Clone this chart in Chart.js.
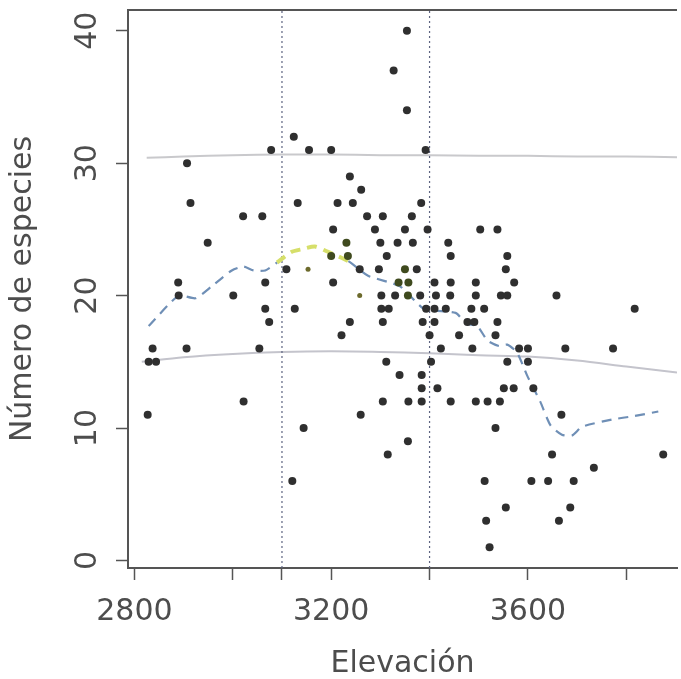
<!DOCTYPE html>
<html><head><meta charset="utf-8">
<script src="https://cdn.jsdelivr.net/npm/chart.js@4.4.1/dist/chart.umd.min.js"></script>
<style>html,body{margin:0;padding:0;background:#fff;}canvas{display:block;}</style>
</head><body>
<canvas id="c" width="681" height="679"></canvas>
<script>
// ---- data ----
const elevation = [2827,2829,2844,2837,2889,2890,2907,2914,2906,2949,3001,3021,3022,3054,3060,3066,3066,3074,3078,3109,3124,3126,3121,3132,3144,3155,
3200,3392,3238,3261,3213,3244,3383,3273,3305,3364,3204,3289,3350,3396,3503,3538,3300,3335,3366,3438,3313,3443,3558,3258,3297,3374,3555,
3204,3410,3443,3494,3572,3302,3330,3381,3413,3442,3494,3545,3558,3302,3317,3393,3410,3433,3485,3511,3238,3305,3386,3410,3477,3491,3538,3221,
3400,3460,3534,3423,3487,3558,3312,3403,3339,3384,3384,3416,3551,3571,3305,3357,3384,3443,3494,3518,3543,3260,3534,3356,3315,3512,3555,3515,3522,
3354,3327,3354,
3658,3817,3676,3773,3582,3600,3600,3611,3668,3649,3875,3734,3607,3641,3693,3686,3663];
const species = [11,15,15,16,21,20,30,27,16,24,20,26,12,16,26,21,19,18,31,22,32,19,6,27,10,31,
31,31,29,28,27,27,27,26,26,26,25,25,25,25,25,25,24,24,24,24,23,23,23,22,22,22,22,
21,21,21,21,21,20,20,20,20,20,20,20,20,19,19,19,19,19,19,19,18,18,18,18,18,18,18,17,
17,17,17,16,16,15,15,15,14,14,13,13,13,13,12,12,12,12,12,12,12,11,10,9,8,6,4,3,1,
40,37,34,
20,19,16,16,16,16,15,13,11,8,8,7,6,6,6,4,3];
const hlElevation = [3200,3234,3231,3350,3337,3357,3356];
const hlSpecies = [23,23,24,22,21,21,20];
const smallElevation = [3153,3258];
const smallSpecies = [22,20];
const loessElevation = [2829,2890,2924,2957,2998,3022,3042,3066,3090,3119,3140,3167,3194,3235,3275,3340,3389,3453,3474,3497,3518,3541,3558,3578,3598,3625,3646,3669,3690,3710,3771,3815,3865];
const loessSpecies   = [17.7,20.0,19.8,20.7,21.9,22.2,21.9,21.9,22.5,23.3,23.5,23.7,23.3,22.6,21.5,20.7,19.0,18.7,17.9,17.7,16.6,16.2,16.3,15.7,14.0,12.0,10.2,9.5,9.45,10.1,10.65,10.9,11.25];
const upperElevation = [2825,2900,3000,3100,3200,3300,3400,3500,3600,3700,3800,3903];
const upperSpecies   = [30.4,30.5,30.6,30.65,30.65,30.6,30.6,30.55,30.55,30.5,30.5,30.45];
const lowerElevation = [2815,2900,3000,3100,3200,3300,3400,3500,3600,3700,3800,3903];
const lowerSpecies   = [15.0,15.35,15.6,15.75,15.8,15.75,15.65,15.5,15.4,15.1,14.65,14.2];
const markerElevations = [3100,3400];
const xTicks = [2800,3000,3100,3200,3400,3600,3800];
const xTickLabels = ['2800','','','3200','','3600',''];
const yTicks = [0,10,20,30,40];
const yTickLabels = ['0','10','20','30','40'];

const pts = (xs, ys) => xs.map((x, i) => ({x, y: ys[i]}));
const Y_MIN = -0.56, Y_MAX = 41.56;
const yellowRange = [3090, 3235];

const FONT = {family: "'DejaVu Sans', sans-serif", size: 30};
const TXT = '#4d4d4d', AX = '#555';

const markerSets = markerElevations.map(e => ({
  data: [{x: e, y: Y_MIN}, {x: e, y: Y_MAX}],
  showLine: true, pointRadius: 0, borderColor: '#5d6380', borderWidth: 1.2,
  borderDash: [2, 3], order: 5
}));

const topFrame = {
  id: 'topFrame',
  afterDraw(chart) {
    const {ctx, chartArea: a} = chart;
    ctx.save(); ctx.strokeStyle = AX; ctx.lineWidth = 2;
    ctx.beginPath(); ctx.moveTo(a.left, a.top); ctx.lineTo(a.right, a.top); ctx.stroke();
    ctx.restore();
  }
};

new Chart(document.getElementById('c'), {
  type: 'scatter',
  data: {
    datasets: [
      {data: pts(elevation, species), pointRadius: 4, pointBackgroundColor: '#2f2f2f', pointBorderWidth: 0, order: 0},
      {data: pts(hlElevation, hlSpecies), pointRadius: 4, pointBackgroundColor: '#3f4a1e', pointBorderWidth: 0, order: 0},
      {data: pts(smallElevation, smallSpecies), pointRadius: 2.5, pointBackgroundColor: '#6c6a2c', pointBorderWidth: 0, order: 0},
      {data: pts(upperElevation, upperSpecies), showLine: true, pointRadius: 0, borderColor: '#c9c9cc', borderWidth: 2, tension: 0.3, order: 6},
      {data: pts(lowerElevation, lowerSpecies), showLine: true, pointRadius: 0, borderColor: '#c4c4cc', borderWidth: 2, tension: 0.3, order: 6},
      {data: pts(loessElevation, loessSpecies), showLine: true, pointRadius: 0, borderColor: '#6f8fb6', borderWidth: 2.2,
        borderDash: [10, 7], tension: 0.2, order: 2,
        segment: {
          borderColor: c => (c.p0.parsed.x >= yellowRange[0] && c.p0.parsed.x < yellowRange[1]) ? '#d6df6a' : '#6f8fb6',
          borderWidth: c => (c.p0.parsed.x >= yellowRange[0] && c.p0.parsed.x < yellowRange[1]) ? 4 : 2.2
        }},
      ...markerSets
    ]
  },
  options: {
    responsive: false, animation: false, devicePixelRatio: 1,
    layout: {padding: {top: 10, right: 0, bottom: 0, left: 0}},
    plugins: {legend: {display: false}, tooltip: {enabled: false}},
    scales: {
      x: {
        type: 'linear', position: 'bottom', min: 2787, max: 3903,
        afterBuildTicks: s => { s.ticks = xTicks.map(v => ({value: v})); },
        afterFit: s => { s.height = 111; s.paddingLeft = 0; s.paddingRight = 0; },
        ticks: {autoSkip: false, maxRotation: 0, minRotation: 0, padding: 14, color: TXT, font: FONT,
          callback: (v, i) => xTickLabels[i]},
        grid: {drawOnChartArea: false, tickLength: 12, tickColor: AX, tickWidth: 1.5},
        border: {color: AX, width: 2},
        title: {display: true, text: 'Elevación', color: TXT, font: {...FONT, lineHeight: 1}, padding: {top: 0, bottom: 0}}
      },
      y: {
        type: 'linear', position: 'left', min: Y_MIN, max: Y_MAX,
        afterBuildTicks: s => { s.ticks = yTicks.map(v => ({value: v})); },
        afterFit: s => { s.width = 128; s.paddingTop = 0; s.paddingBottom = 0; },
        ticks: {autoSkip: false, minRotation: 90, maxRotation: 90, crossAlign: 'center', padding: 9, color: TXT, font: FONT,
          callback: (v, i) => yTickLabels[i]},
        grid: {drawOnChartArea: false, tickLength: 12, tickColor: AX, tickWidth: 1.5},
        border: {color: AX, width: 2},
        title: {display: true, text: 'Número de especies', color: TXT, font: {...FONT, lineHeight: 1}, padding: {top: 8, bottom: 0}}
      }
    }
  },
  plugins: [topFrame]
});
</script>
</body></html>
